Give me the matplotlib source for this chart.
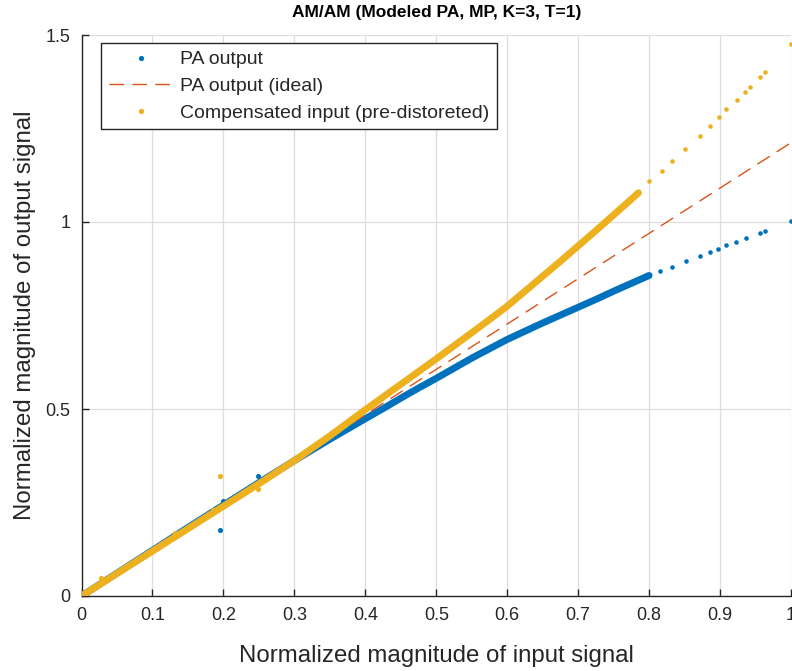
import matplotlib
matplotlib.use("Agg")
import matplotlib.pyplot as plt
from matplotlib.lines import Line2D

plt.rcParams['font.family'] = ['Liberation Sans', 'DejaVu Sans']

# ---- data ----
# dense part of the PA output cloud
pa_in_dense = [0.00, 0.05, 0.10, 0.15, 0.20, 0.25, 0.30, 0.35, 0.40, 0.425, 0.45,
               0.475, 0.50, 0.525, 0.55, 0.575, 0.60, 0.625, 0.65, 0.675, 0.70,
               0.725, 0.75, 0.775, 0.80]
pa_out_dense = [0.000, 0.061, 0.122, 0.183, 0.243, 0.303, 0.362, 0.419, 0.474, 0.501, 0.529,
                0.556, 0.582, 0.609, 0.636, 0.661, 0.686, 0.708, 0.730, 0.751, 0.772,
                0.793, 0.815, 0.836, 0.857]
# sparse high-amplitude PA output samples
pa_in_sparse = [0.815, 0.832, 0.852, 0.872, 0.886, 0.897, 0.909, 0.923, 0.937, 0.956, 0.963, 1.000]
pa_out_sparse = [0.869, 0.880, 0.896, 0.909, 0.920, 0.927, 0.938, 0.947, 0.958, 0.970, 0.976, 1.003]
# isolated PA output samples
pa_in_out = [0.195, 0.200, 0.249]
pa_out_out = [0.177, 0.255, 0.322]

# ideal (linear) PA output
ideal_in = [0.0, 1.0]
ideal_out = [0.0, 1.212]

# dense part of the compensated (pre-distorted) input
comp_x_dense = [0.00, 0.05, 0.10, 0.15, 0.20, 0.25, 0.30, 0.35, 0.40, 0.425, 0.45,
                0.475, 0.50, 0.525, 0.55, 0.575, 0.60, 0.625, 0.65, 0.675, 0.70,
                0.725, 0.75, 0.775, 0.785]
comp_y_dense = [0.000, 0.060, 0.120, 0.180, 0.240, 0.300, 0.362, 0.428, 0.498, 0.532, 0.566,
                0.600, 0.634, 0.669, 0.704, 0.739, 0.775, 0.815, 0.855, 0.895, 0.936,
                0.977, 1.019, 1.061, 1.078]
comp_x_sparse = [0.800, 0.818, 0.832, 0.851, 0.872, 0.886, 0.898, 0.909, 0.924, 0.935,
                 0.942, 0.956, 0.963, 1.000]
comp_y_sparse = [1.110, 1.137, 1.163, 1.195, 1.230, 1.257, 1.280, 1.302, 1.327, 1.348,
                 1.360, 1.387, 1.400, 1.476]
comp_x_out = [0.028, 0.132, 0.186, 0.195, 0.249]
comp_y_out = [0.047, 0.168, 0.230, 0.322, 0.286]

labels = ['PA output', 'PA output (ideal)', 'Compensated input (pre-distoreted)']
title = 'AM/AM (Modeled PA, MP, K=3, T=1)'
xlabel = 'Normalized magnitude of input signal'
ylabel = 'Normalized magnitude of output signal'
xticks = [0, 0.1, 0.2, 0.3, 0.4, 0.5, 0.6, 0.7, 0.8, 0.9, 1]
xticklabels = ['0', '0.1', '0.2', '0.3', '0.4', '0.5', '0.6', '0.7', '0.8', '0.9', '1']
yticks = [0, 0.5, 1, 1.5]
yticklabels = ['0', '0.5', '1', '1.5']

BLUE = '#0072BD'
RED = '#D95319'
YEL = '#EDB120'
AX = '#262626'

fig = plt.figure(figsize=(7.92, 6.71), dpi=100)
ax = fig.add_axes([81.5 / 792, 75 / 671, 709.5 / 792, 561 / 671])

band_lw = 5.0
dot_ms = 3.3
# PA output
ax.plot(pa_in_dense, pa_out_dense, '-', color=BLUE, lw=band_lw,
        solid_capstyle='round', solid_joinstyle='round', zorder=3)
ax.plot(pa_in_sparse, pa_out_sparse, 'o', color=BLUE, ms=dot_ms, mew=0, zorder=3)
ax.plot(pa_in_out, pa_out_out, 'o', color=BLUE, ms=dot_ms + 0.4, mew=0, zorder=3)
# ideal
ax.plot(ideal_in, ideal_out, color=RED, lw=1.0, dashes=(10.5, 6.0), zorder=4)
# compensated input
ax.plot(comp_x_dense, comp_y_dense, '-', color=YEL, lw=band_lw,
        solid_capstyle='round', solid_joinstyle='round', zorder=5)
ax.plot(comp_x_sparse, comp_y_sparse, 'o', color=YEL, ms=dot_ms, mew=0, zorder=5)
ax.plot(comp_x_out, comp_y_out, 'o', color=YEL, ms=dot_ms + 0.4, mew=0, zorder=5)

ax.set_xlim(0, 1)
ax.set_ylim(0, 1.5)
ax.set_xticks(xticks)
ax.set_xticklabels(xticklabels)
ax.set_yticks(yticks)
ax.set_yticklabels(yticklabels)
ax.grid(True, color='#dedede', lw=0.9)
ax.set_axisbelow(True)
for s in ['top', 'right']:
    ax.spines[s].set_visible(False)
for s in ['left', 'bottom']:
    ax.spines[s].set_color(AX)
    ax.spines[s].set_linewidth(1.0)
ax.tick_params(direction='in', length=5, width=1.0, color=AX, labelcolor=AX,
               labelsize=13, pad=8)

fig.text(436.5 / 792, 1 - 13 / 671, title, fontsize=12.5, fontweight='bold',
         color='#000000', ha='center', va='center')
ax.set_xlabel(xlabel, fontsize=17.3, color=AX, labelpad=15)
ax.set_ylabel(ylabel, fontsize=17.3, color=AX, labelpad=7)

handles = [Line2D([], [], ls='none', marker='o', ms=3.8, mew=0, color=BLUE),
           Line2D([], [], color=RED, lw=1.0, dashes=(10.5, 6.0)),
           Line2D([], [], ls='none', marker='o', ms=3.8, mew=0, color=YEL)]
leg = ax.legend(handles, labels, loc='upper left', bbox_to_anchor=(0.0275, 0.9857),
                borderaxespad=0, fontsize=14, frameon=True, fancybox=False,
                handlelength=3.35, handletextpad=0.3, borderpad=0.4, labelspacing=0.46)
leg.get_frame().set_edgecolor(AX)
leg.get_frame().set_linewidth(1.0)
leg.get_frame().set_facecolor('white')
leg.get_frame().set_alpha(1.0)
for t in leg.get_texts():
    t.set_color(AX)

fig.savefig('out.png', dpi=100)
